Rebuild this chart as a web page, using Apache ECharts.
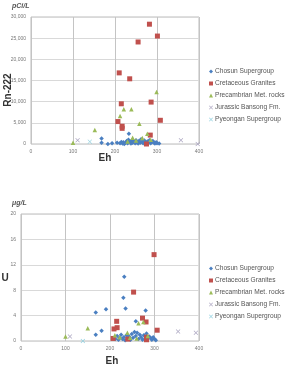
<!DOCTYPE html>
<html><head><meta charset="utf-8">
<script src="https://cdn.jsdelivr.net/npm/echarts@6/dist/echarts.min.js"></script>
<style>html,body{margin:0;padding:0;background:#fff}#c{width:288px;height:365px}</style>
</head><body><div id="c"></div>
<script>
var seriesNames = ['Chosun Supergroup','Cretaceous Granites','Precambrian Met. rocks','Jurassic Bansong Fm.','Pyeongan Supergroup'];
var xTicks = [0,100,200,300,400];
// Rn-222 (pCi/L) vs Eh
var rnChosun = [[168,1300],[168,300],[183,0],[193,150],[205,300],[212,200],[215,500],[218,100],[220,400],[222,0],[225,300],[228,700],[230,200],[232,1000],[233,2400],[236,500],[238,100],[240,800],[242,300],[245,600],[248,200],[250,900],[252,400],[255,100],[257,700],[260,300],[262,1100],[265,500],[267,200],[270,800],[272,400],[275,100],[277,600],[280,300],[282,900],[285,200],[288,500],[290,700],[293,300],[295,100],[298,400],[300,200],[305,100]];
var rnCretaceous = [[282,28300],[301,25500],[255,24100],[210,16800],[235,15400],[215,9500],[286,9900],[308,5600],[207,5300],[217,4200],[217,3700],[284,2100],[275,0]];
var rnPrecambrian = [[100,300],[152,3300],[212,6600],[221,8200],[239,8200],[258,4800],[299,12300],[277,2400],[242,1500],[265,1400],[230,600],[250,800],[285,1000]];
var rnJurassic = [[111,900],[357,900],[397,0]];
var rnPyeongan = [[140,550]];
// U (ug/L) vs Eh
var uChosun = [[168,4.5],[168,1.0],[181,1.6],[191,5.0],[230,6.8],[232,10.1],[235,5.1],[258,3.1],[280,4.8],[212,0.3],[216,0.8],[219,0.2],[222,0.5],[225,1.0],[228,0.3],[231,0.6],[234,0.1],[237,0.9],[240,0.4],[243,0.7],[246,0.2],[249,1.1],[252,0.5],[255,1.4],[258,0.8],[261,1.3],[264,0.3],[267,1.0],[270,0.6],[273,0.2],[276,0.9],[279,0.4],[282,1.2],[285,0.3],[288,0.7],[291,0.5],[294,0.2],[297,0.6],[300,0.3],[303,0.1]];
var uCretaceous = [[207,0.4],[209,1.9],[216,2.1],[215,3.1],[253,7.7],[273,3.6],[281,3.0],[282,0.6],[282,0.2],[299,13.6],[306,1.7],[240,0.3]];
var uPrecambrian = [[100,0.7],[150,2.0],[211,0.9],[222,0.6],[239,1.3],[245,0.5],[264,2.8],[275,3.0],[260,0.4],[285,0.8]];
var uJurassic = [[110,0.7],[353,1.5],[393,1.3]];
var uPyeongan = [[139,0]];

var colors = ['#4a7fc1','#c0504d','#9bbb59','#aaa4c0','#8fd0e0'];
var xPath = 'path://M0,1L1,0L5,4L9,0L10,1L6,5L10,9L9,10L5,6L1,10L0,9L4,5Z';
var symbols = ['diamond','rect','triangle',xPath,xPath];
var sizes = [4.5,5,4.5,4.5,4.5];

function xAxis(gi){
  return {type:'value',gridIndex:gi,min:0,max:400,interval:100,
    axisLine:{show:false},axisTick:{show:false},
    axisLabel:{fontSize:5,color:'#777',margin:5,fontFamily:'Liberation Sans'},
    splitLine:{show:true,lineStyle:{color:'#c4c4c4',width:1}}};
}
function yAxis(gi,max,intv,fmt){
  return {type:'value',gridIndex:gi,min:0,max:max,interval:intv,
    axisLine:{show:false},axisTick:{show:false},
    axisLabel:{fontSize:5,color:'#777',margin:5,fontFamily:'Liberation Sans',formatter:fmt},
    splitLine:{show:true,lineStyle:{color:'#d9d9d9',width:1}}};
}
var rnData = [rnChosun,rnCretaceous,rnPrecambrian,rnJurassic,rnPyeongan];
var uData = [uChosun,uCretaceous,uPrecambrian,uJurassic,uPyeongan];
var series = [];
[rnData,uData].forEach(function(set,gi){
  set.forEach(function(d,i){
    series.push({name:seriesNames[i],type:'scatter',xAxisIndex:gi,yAxisIndex:gi,
      data:d,symbol:symbols[i],symbolSize:sizes[i],itemStyle:{color:colors[i],opacity:1},
      emphasis:{disabled:true}});
  });
});
function legend(top){
  return {orient:'vertical',left:209,top:top,itemWidth:4,itemHeight:4,itemGap:5,padding:0,
    textStyle:{fontSize:6.6,color:'#555',fontFamily:'Liberation Sans',padding:[0,0,0,-3],lineHeight:6.6},
    data:seriesNames.map(function(n,i){return {name:n,icon:symbols[i]};})};
}
var titleFont = 'Liberation Sans';
var chart = echarts.init(document.getElementById('c'),null,{renderer:'canvas'});
chart.setOption({
  animation:false,
  color:colors,
  grid:[{left:31,top:17,width:168,height:127,show:true,borderColor:'#bdbdbd',borderWidth:1},
        {left:21,top:214,width:178,height:127,show:true,borderColor:'#bdbdbd',borderWidth:1}],
  xAxis:[xAxis(0),xAxis(1)],
  yAxis:[yAxis(0,30000,5000,function(v){return v.toLocaleString('en-US');}),yAxis(1,20,4,null)],
  legend:[legend(68),legend(265)],
  series:series,
  graphic:[
    {type:'text',left:12,top:3,style:{text:'pCi/L',font:'italic bold 7px '+titleFont,fill:'#555'}},
    {type:'text',x:8,y:90,rotation:Math.PI/2,style:{text:'Rn-222',font:'bold 10px '+titleFont,fill:'#333',align:'center',verticalAlign:'middle'}},
    {type:'text',x:105,y:158,style:{text:'Eh',font:'bold 10px '+titleFont,fill:'#333',align:'center',verticalAlign:'middle'}},
    {type:'text',left:12,top:200,style:{text:'μg/L',font:'italic bold 7px '+titleFont,fill:'#555'}},
    {type:'text',x:5,y:278,style:{text:'U',font:'bold 10px '+titleFont,fill:'#333',align:'center',verticalAlign:'middle'}},
    {type:'text',x:112,y:361,style:{text:'Eh',font:'bold 10px '+titleFont,fill:'#333',align:'center',verticalAlign:'middle'}}
  ]
});
</script></body></html>
